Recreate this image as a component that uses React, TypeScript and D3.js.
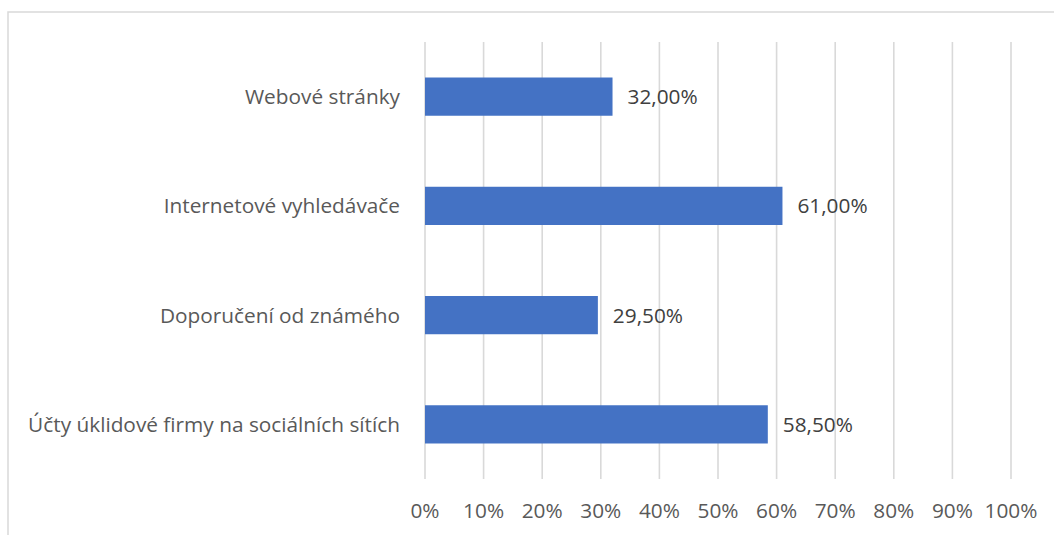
import React from "react";
import * as d3 from "d3";

const categories = [
  "Webové stránky",
  "Internetové vyhledávače",
  "Doporučení od známého",
  "Účty úklidové firmy na sociálních sítích",
];
const values = [32.0, 61.0, 29.5, 58.5];
const tickValues = [0, 10, 20, 30, 40, 50, 60, 70, 80, 90, 100];

const W = 1054;
const H = 535;
const FONT = "'Open Sans', 'Noto Sans', sans-serif";

export default function App() {
  const x = d3.scaleLinear().domain([0, 100]).range([425, 1011]);
  const y = d3
    .scaleBand<string>()
    .domain(categories)
    .range([42, 479])
    .paddingInner(0.65)
    .paddingOuter(0.325);
  const fmt = (v: number) => v.toFixed(2).replace(".", ",") + "%";

  return (
    <svg
      width={W}
      height={H}
      style={{ position: "absolute", left: 0, top: 0, background: "#fff" }}
    >
      <rect x={8} y={12} width={W + 10} height={H + 10} fill="#fff" stroke="#d9d9d9" strokeWidth={1.5} />
      {tickValues.map((t) => (
        <line key={t} x1={x(t)} x2={x(t)} y1={42} y2={479} stroke="#d9d9d9" strokeWidth={1.6} />
      ))}
      {categories.map((c, i) => (
        <rect key={c} x={x(0)} y={y(c)} width={x(values[i]) - x(0)} height={y.bandwidth()} fill="#4472C4" />
      ))}
      {categories.map((c, i) => (
        <text
          key={"v" + c}
          x={x(values[i]) + 15}
          y={(y(c) as number) + y.bandwidth() / 2}
          dy="0.36em"
          fontFamily={FONT}
          fontSize={20.8}
          fill="#404040"
        >
          {fmt(values[i])}
        </text>
      ))}
      {categories.map((c) => (
        <text
          key={"c" + c}
          x={400}
          y={(y(c) as number) + y.bandwidth() / 2}
          dy="0.36em"
          textAnchor="end"
          fontFamily={FONT}
          fontSize={20.8}
          fill="#595959"
        >
          {c}
        </text>
      ))}
      {tickValues.map((t) => (
        <text
          key={"t" + t}
          x={x(t)}
          y={518}
          textAnchor="middle"
          fontFamily={FONT}
          fontSize={20.8}
          fill="#595959"
        >
          {t + "%"}
        </text>
      ))}
    </svg>
  );
}
